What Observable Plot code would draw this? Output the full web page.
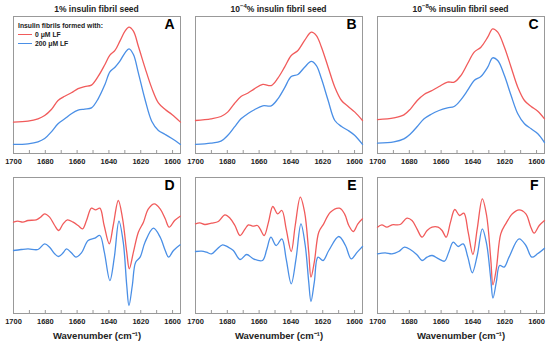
<!DOCTYPE html>
<html><head><meta charset="utf-8">
<script src="https://cdn.jsdelivr.net/npm/d3@7"></script>
<script src="https://cdn.jsdelivr.net/npm/@observablehq/plot@0.6"></script>
<style>
body{margin:0;background:#fff;font-family:"Liberation Sans",Arial,sans-serif;}
#wrap{position:relative;width:550px;height:344px;overflow:hidden;}
#wrap svg{display:block;}
#legend{position:absolute;left:18px;top:20.5px;font-size:6.8px;font-weight:bold;color:#222;line-height:9px;white-space:nowrap;}
#legend .sw{display:inline-block;width:14px;height:1.3px;vertical-align:middle;margin-right:3px;position:relative;top:-0.5px;}
.ptitle{position:absolute;top:4px;transform:translateX(-50%);font-size:8.5px;font-weight:bold;color:#222;line-height:11px;white-space:nowrap;}
.ptitle sup{font-size:6px;line-height:0;position:relative;top:-0.5px;vertical-align:super;}
</style></head><body><div id="wrap"><div id="legend"></div></div>
<script>
// ---- categories / labels ----
const panelKeys = ["p1", "p2", "p3"];
const seedBases = ["1", "10", "10"];
const seedExps = [null, "\u22124", "\u22128"];
const seedSuffix = "% insulin fibril seed";
const topLetters = ["A", "B", "C"];
const bottomLetters = ["D", "E", "F"];
const seriesNames = ["0 \u03BCM LF", "200 \u03BCM LF"];
const seriesColors = ["#f15b5b", "#4a8fe6"];
const legendTitle = "Insulin fibrils formed with:";
const xLabel = "Wavenumber (cm\u207B\u00B9)";
const xTicks = [1700, 1680, 1660, 1640, 1620, 1600];
const xMinorTicks = [1700, 1690, 1680, 1670, 1660, 1650, 1640, 1630, 1620, 1610, 1600];

// ---- absorbance spectra (top row, arbitrary units) ----
const absWnA = [1700,1690.9,1684.6,1680.4,1676.2,1672,1667.8,1663.6,1659.4,1655.2,1651,1646.7,1642.5,1639.4,1636.2,1633.1,1629.9,1627.4,1624.6,1621.5,1617.3,1613.1,1608.9,1604.6,1600.4,1595];
const absA0   = [0.229,0.236,0.253,0.277,0.321,0.387,0.418,0.443,0.474,0.489,0.499,0.564,0.650,0.718,0.752,0.820,0.893,0.922,0.893,0.783,0.625,0.479,0.370,0.321,0.285,0.229];
const absA200 = [0.066,0.071,0.085,0.109,0.158,0.217,0.253,0.290,0.316,0.324,0.333,0.401,0.504,0.596,0.630,0.674,0.735,0.764,0.723,0.589,0.394,0.236,0.168,0.139,0.109,0.066];

const absWnB = [1700,1690.3,1684,1679.8,1675.6,1671.4,1667.2,1663,1657.7,1652.4,1648.2,1644,1639.8,1635.6,1631.4,1627.2,1624,1620.8,1616.6,1612.4,1608.2,1604,1599.8,1595];
const absB0   = [0.241,0.253,0.270,0.302,0.363,0.416,0.440,0.472,0.504,0.496,0.550,0.630,0.715,0.752,0.825,0.886,0.861,0.776,0.630,0.484,0.387,0.343,0.302,0.241];
const absB200 = [0.066,0.075,0.090,0.131,0.192,0.253,0.290,0.319,0.348,0.348,0.399,0.479,0.562,0.577,0.630,0.672,0.642,0.545,0.387,0.241,0.197,0.168,0.131,0.066];

const absWnC = [1700,1689.7,1683.4,1679.2,1675,1670.7,1666.5,1661.3,1656,1651.8,1647.6,1643.4,1639.2,1635,1630.7,1627.6,1624.4,1620.2,1616,1611.8,1607.6,1603.4,1599.2,1595];
const absC0   = [0.248,0.260,0.282,0.326,0.387,0.431,0.455,0.489,0.521,0.521,0.569,0.655,0.740,0.776,0.849,0.910,0.886,0.776,0.630,0.484,0.387,0.343,0.309,0.253];
const absC200 = [0.075,0.085,0.107,0.144,0.197,0.253,0.285,0.314,0.333,0.343,0.392,0.460,0.533,0.562,0.630,0.698,0.679,0.569,0.423,0.290,0.217,0.180,0.144,0.080];

// ---- second-derivative spectra (bottom row, arbitrary units) ----
const d2WnD0 = [1700,1697.3,1694.1,1690.9,1685.7,1683,1680.4,1677.3,1674.1,1671.6,1668.8,1666.1,1662.5,1659.4,1656.6,1654.1,1651,1648.4,1645.7,1643,1639.8,1637.3,1634.1,1631.4,1628.8,1627.2,1624.6,1621.5,1618.3,1615.2,1611.4,1607.8,1604.6,1602.1,1598.7,1595.2];
const d2D0   = [274,277,274,279,281,289,299,289,264,249,269,281,274,264,254,279,316,311,316,264,209,264,339,284,184,134,184,244,274,314,329,314,284,259,279,292];
const d2WnD200 = [1700,1695.2,1690.9,1684.6,1680.4,1677.3,1674.1,1671.6,1668.8,1666.7,1663.6,1660.8,1657.3,1653.1,1648.8,1645.7,1642.9,1639.4,1636.6,1633.7,1631,1628.8,1627.4,1625.3,1623.2,1620.4,1617.3,1612,1607.8,1604.6,1602.5,1599.4,1595.2];
const d2D200 = [189,192,194,192,209,199,179,171,182,194,182,169,182,219,226,234,184,99,169,277,214,84,24,84,154,169,214,256,229,189,169,189,206];

const d2WnE0 = [1700,1697.3,1694.1,1689.9,1685.7,1681.5,1678.3,1675.2,1672,1668.8,1666.7,1664,1661.1,1659.4,1656.8,1654.1,1651.4,1648.4,1645.7,1643,1639.8,1637.3,1634.1,1631.4,1628.8,1627.4,1625.3,1622.5,1619.4,1615.2,1609.5,1606.3,1603.6,1600.8,1597.9,1595];
const d2E0   = [269,272,267,271,276,296,286,264,234,254,266,262,264,254,234,274,321,299,309,254,186,264,349,304,184,109,154,244,269,304,316,299,264,246,269,284];
const d2WnE200 = [1700,1696.2,1693.1,1689.9,1686.7,1683,1679.4,1676.2,1672,1667.8,1663.6,1657.9,1655.2,1652.6,1649.3,1645.7,1643,1639.8,1636.8,1633.7,1631,1628.8,1627.4,1625.3,1623,1619.8,1616.2,1609.9,1605.7,1602.1,1598.3,1595];
const d2E200 = [186,187,184,179,192,206,199,189,162,177,164,159,192,229,204,224,164,89,164,269,204,94,36,94,169,159,189,231,204,164,184,201];

const d2WnF0 = [1700,1697.3,1694.1,1690.9,1685.7,1681.5,1678.3,1675.2,1672,1668.8,1665.7,1661.9,1659.4,1656.8,1654.1,1651.4,1648.4,1645.7,1643,1640,1637.3,1634.1,1631.4,1628.8,1627.4,1625.3,1622.5,1619.4,1615.2,1611,1606.7,1603.6,1601.5,1598.3,1595];
const d2F0   = [259,266,259,266,267,286,279,254,229,249,259,259,249,229,274,312,294,301,244,177,254,344,294,164,86,134,239,269,299,311,299,259,241,264,279];
const d2WnF200 = [1700,1695.2,1690.9,1686.7,1683,1679.4,1675.2,1672,1668.8,1665.7,1661.5,1657.9,1655.2,1652.4,1649.3,1646.1,1643.2,1640.4,1637.3,1634.1,1631.4,1628.8,1627.4,1625.3,1623.2,1620.4,1617.3,1611,1606.7,1603,1599.4,1595];
const d2F200 = [179,182,179,186,199,192,176,159,169,174,164,157,184,214,201,209,169,122,174,254,209,104,46,94,144,139,169,224,204,169,179,196];

// ---- build tables ----
function rows(wn, vals, panel, series) {
  return wn.map((w, i) => ({panel, series, wn: w, v: vals[i]}));
}
const topData = [
  ...rows(absWnA, absA0, panelKeys[0], seriesNames[0]), ...rows(absWnA, absA200, panelKeys[0], seriesNames[1]),
  ...rows(absWnB, absB0, panelKeys[1], seriesNames[0]), ...rows(absWnB, absB200, panelKeys[1], seriesNames[1]),
  ...rows(absWnC, absC0, panelKeys[2], seriesNames[0]), ...rows(absWnC, absC200, panelKeys[2], seriesNames[1])
];
const bottomData = [
  ...rows(d2WnD0, d2D0, panelKeys[0], seriesNames[0]), ...rows(d2WnD200, d2D200, panelKeys[0], seriesNames[1]),
  ...rows(d2WnE0, d2E0, panelKeys[1], seriesNames[0]), ...rows(d2WnE200, d2E200, panelKeys[1], seriesNames[1]),
  ...rows(d2WnF0, d2F0, panelKeys[2], seriesNames[0]), ...rows(d2WnF200, d2F200, panelKeys[2], seriesNames[1])
];
const topLetterRows = panelKeys.map((p, i) => ({panel: p, letter: topLetters[i]}));
const bottomLetterRows = panelKeys.map((p, i) => ({panel: p, letter: bottomLetters[i]}));

const FONT = "'Liberation Sans', Arial, sans-serif";
const frameColor = "#999";

function panelMarks(data, letterRows) {
  return [
    Plot.frame({stroke: frameColor, strokeWidth: 1}),
    Plot.axisX({anchor: "bottom", ticks: xMinorTicks, tickSize: -3, tickFormat: () => "", stroke: frameColor, label: null}),
    Plot.axisX({anchor: "bottom", ticks: xTicks, tickSize: 0, tickPadding: 5, tickFormat: d => String(d),
                fontSize: 7.5, fontWeight: "bold", fill: "#222", label: null}),
    Plot.line(data, {x: "wn", y: "v", fx: "panel", z: "series", stroke: "series", strokeWidth: 1.3, curve: "catmull-rom"}),
    Plot.text(letterRows, {fx: "panel", text: "letter", frameAnchor: "top-right", dx: -6, dy: 3,
                fontSize: 14, fontWeight: "bold", fill: "#000"})
  ];
}

const common = {
  width: 550, marginLeft: 12, marginRight: 6,
  style: {fontFamily: FONT, background: "#fff", overflow: "visible"},
  x: {domain: [1700, 1595]},
  fx: {domain: panelKeys, paddingInner: 0.085, paddingOuter: 0, axis: null},
  color: {domain: seriesNames, range: seriesColors}
};

const topChart = Plot.plot({
  ...common,
  height: 170, marginTop: 16, marginBottom: 17,
  y: {domain: [0, 1], axis: null},
  marks: panelMarks(topData, topLetterRows)
});

const bottomChart = Plot.plot({
  ...common,
  height: 174, marginTop: 7, marginBottom: 31,
  y: {domain: [0, 408], axis: null},
  marks: [
    ...panelMarks(bottomData, bottomLetterRows),
    Plot.text(panelKeys, {fx: d => d, text: () => xLabel, frameAnchor: "bottom", lineAnchor: "middle",
                dy: 22, fontSize: 9.5, fontWeight: "bold", fill: "#222"})
  ]
});

const wrap = document.getElementById("wrap");
wrap.appendChild(topChart);
wrap.appendChild(bottomChart);

// column titles, centred on the fx bands of the top chart
const fxScale = topChart.scale("fx");
panelKeys.forEach((k, i) => {
  const d = document.createElement("div");
  d.className = "ptitle";
  d.style.left = (fxScale.apply(k) + fxScale.bandwidth / 2) + "px";
  d.appendChild(document.createTextNode(seedBases[i]));
  if (seedExps[i]) {
    const s = document.createElement("sup");
    s.textContent = seedExps[i];
    d.appendChild(s);
  }
  d.appendChild(document.createTextNode(seedSuffix));
  wrap.appendChild(d);
});

// legend (inside panel A)
const legend = document.getElementById("legend");
const t = document.createElement("div");
t.textContent = legendTitle;
legend.appendChild(t);
seriesNames.forEach((name, i) => {
  const row = document.createElement("div");
  const sw = document.createElement("span");
  sw.className = "sw";
  sw.style.background = seriesColors[i];
  row.appendChild(sw);
  row.appendChild(document.createTextNode(name));
  legend.appendChild(row);
});
wrap.appendChild(legend);
</script>
</body></html>
